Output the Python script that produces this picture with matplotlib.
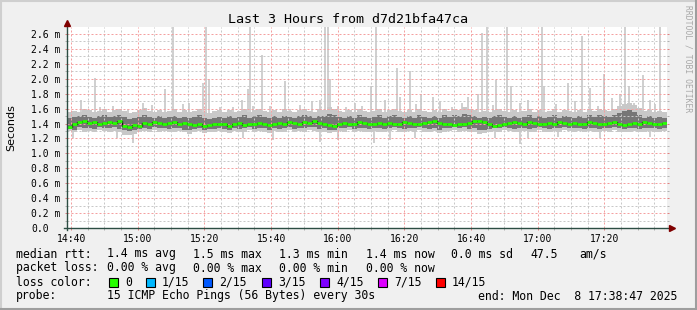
import datetime as dt
import matplotlib
matplotlib.use("Agg")
import matplotlib.pyplot as plt
import matplotlib.dates as mdates
from matplotlib.ticker import MultipleLocator, FixedLocator
from matplotlib.lines import Line2D
from matplotlib.patches import Rectangle
import numpy as np

# time span of the graph
start = dt.datetime(2025, 12, 8, 14, 38, 47)
end = dt.datetime(2025, 12, 8, 17, 38, 47)
bin_sec = 90  # one value per 90 s bin

# per-bin values, in hundredths of a millisecond
median = [136, 139,
          142, 143, 141, 142, 140, 141, 142, 141, 144,
          137, 136, 138, 137,
          141, 140, 142, 141, 139, 141, 142, 140, 141, 139,
          138, 139, 137, 138, 140, 139,
          140, 137, 139, 141, 138, 140, 139, 141, 140, 138, 139, 141, 140, 142, 141, 140,
          142, 141, 143, 141, 139, 138,
          137, 140, 141, 139, 140, 142, 141, 139, 140, 141,
          140, 141, 139, 140, 142, 141, 140, 139, 141, 142, 143, 141,
          140, 139, 138, 139, 140, 141, 143, 144,
          142, 140, 137, 138, 140, 141, 142, 141,
          140, 142, 141, 140, 139, 141, 140, 142, 141, 140,
          141, 139, 140, 142, 141, 139, 140, 141, 142, 140, 138, 139,
          141, 140, 142, 141, 139, 140, 141]

smoke_hi = [155, 157, 156, 160, 158, 155, 157, 159, 156, 158, 160,
            157, 154, 156, 158, 161, 157, 155, 158, 156, 157,
            159, 156, 158, 155, 157, 160, 156, 154, 157, 158,
            156, 158, 155, 157, 159, 156, 158, 160, 157, 155,
            158, 156, 159, 157, 155, 158, 160, 157, 156, 159,
            158, 162, 160, 157, 155, 158, 156, 159, 157, 155,
            157, 159, 156, 158, 160, 157, 155, 158, 156, 159,
            157, 155, 158, 156, 159, 157, 160, 158, 162, 160,
            158, 156, 157, 155, 158, 160, 157, 156, 158, 155,
            157, 159, 156, 158, 155, 157, 159, 156, 158, 157,
            155, 158, 156, 159, 157, 160, 158, 157, 159, 163,
            166, 168, 165, 161, 157, 158, 155, 157, 156]

smoke_mid_hi = [147, 149, 150, 151, 149, 148, 150, 151, 149, 150, 152,
                149, 146, 147, 149, 151, 149, 148, 150, 148, 149,
                150, 148, 149, 147, 149, 151, 148, 146, 148, 149,
                148, 150, 147, 149, 151, 148, 150, 151, 149, 147,
                150, 148, 150, 149, 147, 150, 152, 150, 148, 150,
                150, 153, 151, 149, 147, 150, 148, 151, 149, 147,
                149, 151, 148, 150, 152, 149, 147, 150, 148, 151,
                149, 147, 150, 148, 151, 149, 152, 150, 153, 152,
                150, 148, 149, 147, 150, 152, 149, 148, 150, 147,
                149, 151, 148, 150, 147, 149, 151, 148, 150, 149,
                147, 150, 148, 151, 149, 152, 150, 149, 151, 154,
                157, 158, 156, 152, 148, 150, 147, 149, 148]

smoke_mid_lo = [133, 132, 135, 134, 134, 133, 135, 134, 134, 135, 133,
                131, 130, 132, 133, 134, 133, 135, 134, 134, 133,
                134, 134, 132, 131, 133, 134, 132, 133, 133, 134,
                133, 132, 134, 133, 134, 135, 133, 134, 134, 132,
                134, 133, 134, 135, 133, 134, 134, 135, 135, 133,
                134, 131, 132, 134, 134, 135, 133, 134, 134, 133,
                134, 134, 133, 134, 135, 134, 133, 134, 134, 135,
                134, 133, 134, 132, 134, 134, 135, 134, 135, 133,
                134, 131, 132, 133, 134, 134, 135, 134, 133, 134,
                134, 133, 134, 135, 134, 133, 134, 134, 135, 134,
                134, 134, 133, 134, 134, 133, 134, 134, 135, 134,
                133, 134, 134, 133, 134, 134, 134, 133, 134]

smoke_lo = [130, 128, 131, 129, 130, 128, 131, 130, 129, 130, 128,
            125, 124, 126, 129, 130, 128, 131, 129, 130, 128,
            129, 130, 128, 126, 129, 130, 127, 129, 128, 130,
            129, 127, 130, 128, 129, 131, 128, 130, 129, 127,
            130, 128, 129, 131, 128, 130, 129, 131, 130, 128,
            129, 127, 128, 130, 129, 131, 128, 130, 129, 128,
            130, 129, 128, 130, 131, 129, 128, 130, 129, 131,
            129, 128, 130, 127, 129, 130, 131, 129, 130, 128,
            129, 126, 127, 128, 130, 129, 131, 130, 128, 129,
            130, 128, 129, 131, 129, 128, 130, 129, 131, 130,
            129, 130, 128, 130, 129, 128, 130, 129, 131, 129,
            128, 129, 130, 128, 129, 130, 129, 128, 130]

# single high pings: minutes after start, value in ms
spike_min = [4.2, 8.4, 10.0, 13.8, 18.3, 22.8, 25.5, 29.4, 31.8, 34.8, 36.6,
             40.8, 41.7, 42.6, 45.9, 49.8, 52.5, 54.3, 54.9, 55.8, 58.5,
             60.9, 65.4, 66.9, 69.9, 73.5, 75.9, 77.4, 78.3, 78.9, 81.3,
             83.7, 86.4, 88.5, 91.2, 92.7, 95.4, 99.0, 99.9, 102.9, 104.7,
             106.2, 109.8, 111.9, 115.5, 118.5, 120.3, 123.3, 124.5, 126.0,
             127.8, 128.7, 132.0, 133.2, 135.9, 138.3, 142.5, 143.1, 146.7,
             150.3, 152.4, 154.5, 156.9, 159.3, 161.1, 163.5, 165.9, 167.4,
             168.6, 170.1, 172.8, 174.9, 176.4, 177.9]
spike_ms = [1.72, 2.01, 1.62, 1.63, 1.60, 1.67, 1.65, 1.86, 2.75, 1.66, 1.68,
            1.94, 2.75, 2.00, 1.62, 1.62, 1.72, 1.86, 2.75, 1.64, 2.32,
            1.64, 1.97, 1.60, 1.65, 1.70, 1.72, 2.75, 2.75, 2.00, 1.63,
            1.62, 1.68, 1.64, 1.90, 2.75, 1.72, 2.14, 1.75, 2.10, 1.66,
            1.80, 1.75, 1.70, 1.62, 1.67, 1.75, 1.80, 2.61, 2.75,
            1.65, 1.98, 2.75, 1.90, 1.68, 1.72, 2.75, 1.90, 1.66,
            1.95, 1.70, 2.57, 1.87, 1.64, 2.07, 1.74, 1.80, 2.75,
            1.90, 1.68, 2.05, 1.72, 1.66, 2.75]

# single low pings
dip_min = [1.8, 15.0, 19.8, 52.8, 61.8, 75.9, 81.3, 92.1, 96.9, 104.4,
           128.4, 135.9, 138.3, 147.3, 159.9, 174.9]
dip_ms = [1.20, 1.20, 1.14, 1.20, 1.18, 1.15, 1.18, 1.14, 1.18, 1.20,
          1.20, 1.13, 1.20, 1.22, 1.20, 1.22]

y_ticks = [0.0, 0.2, 0.4, 0.6, 0.8, 1.0, 1.2, 1.4, 1.6, 1.8, 2.0, 2.2, 2.4, 2.6]

loss_labels = ['0', '1/15', '2/15', '3/15', '4/15', '7/15', '14/15']
loss_colors = ['#26ff00', '#00b8ff', '#0059ff', '#5e00ff', '#7e00ff', '#dd00ff', '#ff0000']

stats_rtt = ['median rtt:', '1.4 ms avg', '1.5 ms max', '1.3 ms min',
             '1.4 ms now', '0.0 ms sd', '47.5', 'am/s']
stats_loss = ['packet loss:', '0.00 % avg', '0.00 % max', '0.00 % min', '0.00 % now']
probe_text = '15 ICMP Echo Pings (56 Bytes) every 30s'
end_text = 'end: Mon Dec  8 17:38:47 2025'

# ---- layout (pixels) ----
W, H = 697, 310
L, R, T, B = 67, 667, 27, 228
rtt_x = [16, 107, 193, 279, 366, 451, 530, 579]
loss_x = [16, 107, 193, 279, 366]
sq_x = [109, 146, 203, 262, 320, 378, 436]
MONO = 'DejaVu Sans Mono'

fig = plt.figure(figsize=(W / 100, H / 100), dpi=100, facecolor='#f0f0f0')
ax = fig.add_axes([L / W, 1 - B / H, (R - L) / W, (B - T) / H])
ax.set_facecolor('white')

n = len(median)
edges = mdates.date2num([start + dt.timedelta(seconds=bin_sec * i) for i in range(n + 1)])
med = np.array(median) / 100
hi = np.array(smoke_hi) / 100
mhi = np.array(smoke_mid_hi) / 100
mlo = np.array(smoke_mid_lo) / 100
lo = np.array(smoke_lo) / 100

sx = mdates.date2num([start + dt.timedelta(minutes=m) for m in spike_min])
dx = mdates.date2num([start + dt.timedelta(minutes=m) for m in dip_min])
ax.vlines(sx, 1.35, spike_ms, color='#cccccc', lw=1.3, zorder=1)
ax.vlines(dx, dip_ms, 1.38, color='#cccccc', lw=1.3, zorder=1)

ax.fill_between(edges, np.append(lo, lo[-1]), np.append(hi, hi[-1]),
                step='post', color='#c8c8c8', lw=0, zorder=1.2)
ax.fill_between(edges, np.append(mlo, mlo[-1]), np.append(mhi, mhi[-1]),
                step='post', color='#767676', lw=0, zorder=1.3)
ax.step(edges, np.append(med, med[-1]), where='post', color='#111111', lw=1.0, zorder=3)
ax.hlines(med, edges[:-1], edges[1:], color='#26ff00', lw=2.0, zorder=3.2)

ax.set_xlim(mdates.date2num(start), mdates.date2num(end))
ax.set_ylim(0, 2.694)

ax.xaxis.set_major_locator(mdates.MinuteLocator(byminute=[0, 20, 40]))
ax.xaxis.set_minor_locator(mdates.MinuteLocator(byminute=range(0, 60, 5)))
ax.xaxis.set_major_formatter(mdates.DateFormatter('%H:%M'))
ax.yaxis.set_major_locator(FixedLocator(y_ticks))
ax.yaxis.set_minor_locator(MultipleLocator(0.1))
ax.set_yticklabels(['0.0' if v == 0 else f'{v:.1f} m' for v in y_ticks])

ax.set_axisbelow(False)
ax.grid(which='major', color='#f4a0a0', lw=0.72, ls=(0, (2, 2)), zorder=2.5)
ax.grid(which='minor', color='#c8c8c8', lw=0.72, ls=(0, (2, 2)), zorder=2.5)

ax.tick_params(which='both', direction='out', length=1.5, width=0.72,
               labelsize=7.0, right=True)
ax.tick_params(which='major', color='#e08080')
ax.tick_params(which='minor', color='#b0b0b0')
ax.tick_params(axis='x', pad=2.5)
ax.tick_params(axis='y', pad=24.5)
for lab in ax.get_yticklabels():
    lab.set_ha('left')
    lab.set_family(MONO)
for lab in ax.get_xticklabels():
    lab.set_family(MONO)

for s in ax.spines.values():
    s.set_visible(False)
axis_col = '#2c4d43'
arrow_col = '#7f0000'
ax.add_line(Line2D([0, 0], [-0.01, 1.01], transform=ax.transAxes, color=axis_col,
                   lw=1, clip_on=False, zorder=5))
ax.add_line(Line2D([-0.005, 1.005], [0, 0], transform=ax.transAxes, color=axis_col,
                   lw=1, clip_on=False, zorder=5))
ax.plot([0], [1 + 4 / (B - T)], marker='^', ms=5, color=arrow_col,
        transform=ax.transAxes, clip_on=False, zorder=6)
ax.plot([1 + 5 / (R - L)], [0], marker='>', ms=5, color=arrow_col,
        transform=ax.transAxes, clip_on=False, zorder=6)

ax.set_ylabel('Seconds', fontsize=8)
ax.yaxis.set_label_coords((16 - L) / (R - L), 0.5)

fig.text(0.5, 1 - 19.5 / H, 'Last 3 Hours from d7d21bfa47ca', ha='center', va='center',
         family=MONO, fontsize=9.6)
fig.text(688 / W, 1 - 5 / H, 'RRDTOOL / TOBI OETIKER', rotation=270, ha='center', va='top',
         family=MONO, fontsize=5.8, color='#a8a8a8')

def put(x, y, s):
    fig.text(x / W, 1 - y / H, s, ha='left', va='center', family=MONO, fontsize=8.3)

for x, s in zip(rtt_x, stats_rtt):
    put(x, 254, s)
for x, s in zip(loss_x, stats_loss):
    put(x, 268, s)
put(16, 282, 'loss color:')
for x, c, s in zip(sq_x, loss_colors, loss_labels):
    fig.add_artist(Rectangle((x / W, 1 - 287 / H), 9 / W, 9 / H, transform=fig.transFigure,
                             facecolor=c, edgecolor='black', lw=0.8))
    put(x + 16, 282, s)
put(16, 296, 'probe:')
put(107, 296, probe_text)
put(478, 296, end_text)

# rrdtool style frame
fig.add_artist(Line2D([0, 1], [1 - 1 / H, 1 - 1 / H], transform=fig.transFigure, color='#cfcfcf', lw=1.5))
fig.add_artist(Line2D([1 / W, 1 / W], [0, 1], transform=fig.transFigure, color='#cfcfcf', lw=1.5))
fig.add_artist(Line2D([0, 1], [1 / H, 1 / H], transform=fig.transFigure, color='#9e9e9e', lw=1.5))
fig.add_artist(Line2D([1 - 1 / W, 1 - 1 / W], [0, 1], transform=fig.transFigure, color='#9e9e9e', lw=1.5))

fig.savefig('out.png', dpi=100, facecolor=fig.get_facecolor())
